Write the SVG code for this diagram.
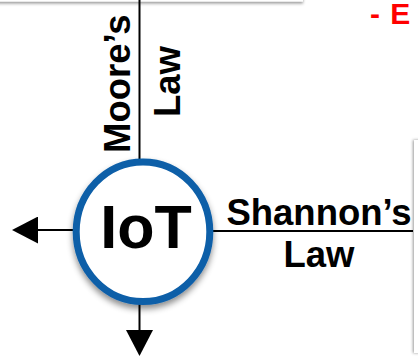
<svg xmlns="http://www.w3.org/2000/svg" width="418" height="358" viewBox="0 0 418 358">
<defs>
<filter id="sh" x="-20%" y="-20%" width="140%" height="140%">
<feDropShadow dx="0" dy="4" stdDeviation="3" flood-color="#000" flood-opacity="0.45"/>
</filter>
<filter id="bsh" x="-20%" y="-50%" width="140%" height="300%">
<feDropShadow dx="0" dy="2" stdDeviation="1.5" flood-color="#000" flood-opacity="0.4"/>
</filter>
<filter id="rsh" x="-50%" y="-20%" width="300%" height="140%">
<feDropShadow dx="-1" dy="0" stdDeviation="1.5" flood-color="#000" flood-opacity="0.4"/>
</filter>
<marker id="ah" viewBox="0 0 26 27" refX="0" refY="13.5" markerWidth="26" markerHeight="27" markerUnits="userSpaceOnUse" orient="auto">
<path d="M0,0 L26,13.5 L0,27 Z" fill="#000"/>
</marker>
<style>
.lbl{font-family:"Liberation Sans",Arial,sans-serif;font-weight:bold;font-size:36.5px;fill:#000}
.ln{stroke:#000;stroke-width:2;fill:none}
.red{font-family:"Liberation Sans",Arial,sans-serif;font-weight:bold;font-size:30px;fill:#ff0000}
</style>
</defs>
<g id="top-box"><rect x="-20" y="-20" width="323" height="21.5" fill="#fff" filter="url(#bsh)"/></g>
<g id="right-box"><rect x="414" y="140" width="40" height="213" fill="#fff" filter="url(#rsh)"/></g>
<text class="red" x="370" y="24">- <tspan dx="2">E</tspan></text>
<g id="connectors">
<line class="ln" x1="139.5" y1="0" x2="139.5" y2="159"/>
<line class="ln" x1="213" y1="231" x2="413" y2="231"/>
<line class="ln" x1="74" y1="230" x2="38" y2="230" marker-end="url(#ah)"/>
<line class="ln" x1="139.5" y1="304" x2="139.5" y2="330" marker-end="url(#ah)"/>
</g>
<g id="moores-law">
<text class="lbl" transform="translate(130,153) rotate(-90)">Moore’s</text>
<text class="lbl" transform="translate(180,117) rotate(-90)">Law</text>
</g>
<g id="shannons-law">
<text class="lbl" x="319" y="225" text-anchor="middle">Shannon’s</text>
<text class="lbl" x="319" y="266.5" text-anchor="middle">Law</text>
</g>
<g id="iot">
<ellipse cx="143" cy="231.7" rx="66.8" ry="69.8" fill="#fff" stroke="#0B5EA8" stroke-width="7" filter="url(#sh)"/>
<text x="146" y="248" text-anchor="middle" font-family="Liberation Sans,Arial,sans-serif" font-weight="bold" font-size="61" fill="#000">IoT</text>
</g>
</svg>
